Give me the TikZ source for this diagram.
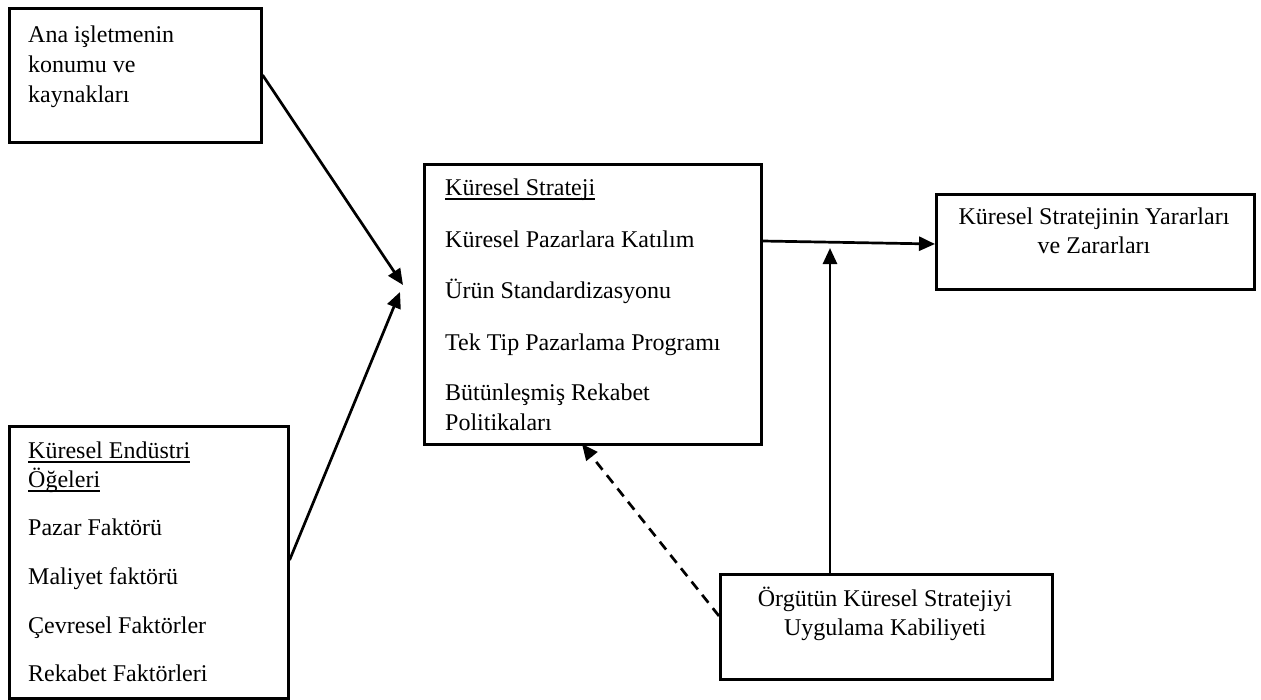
\documentclass[tikz,border=0pt]{standalone}
\usepackage{fontspec}
\setmainfont{Liberation Serif}
\usetikzlibrary{arrows.meta}

% underline drawn just below the baseline
\newcommand\undertext[1]{\setbox0\hbox{#1}\rlap{\rule[-4.5pt]{\wd0}{1.5pt}}\box0}

\tikzset{
  box/.style={draw, line width=2.6pt, rectangle, inner sep=0pt, anchor=north west},
  txt/.style={anchor=base west, inner sep=0pt, font=\fontsize{24}{29}\selectfont},
  ctxt/.style={anchor=base, inner sep=0pt, font=\fontsize{24}{29}\selectfont},
  link/.style={line width=2.7pt, -{Triangle[length=16pt,width=14pt]}},
  dlink/.style={link, dash pattern=on 10pt off 7pt}
}

\begin{document}
\begin{tikzpicture}[x=1pt, y=-1pt]
\useasboundingbox (0,0) rectangle (1261,699);

% boxes
\node[box, minimum width=252pt, minimum height=134pt] (src) at (8,7) {};
\node[box, minimum width=279pt, minimum height=272pt] (ind) at (8,425) {};
\node[box, minimum width=337pt, minimum height=280pt] (strat) at (423,163) {};
\node[box, minimum width=318pt, minimum height=95pt] (res) at (935,193) {};
\node[box, minimum width=332pt, minimum height=105pt] (org) at (719,573) {};

% texts of the upper left box
\node[txt] (src1) at (28,42) {Ana işletmenin};
\node[txt] (src2) at (28,72) {konumu ve};
\node[txt] (src3) at (28,102) {kaynakları};

% texts of the lower left box
\node[txt] (ind1) at (28,458) {\undertext{Küresel Endüstri}};
\node[txt] (ind2) at (28,487) {\undertext{Öğeleri}};
\node[txt] (ind3) at (28,535) {Pazar Faktörü};
\node[txt] (ind4) at (28,584) {Maliyet faktörü};
\node[txt] (ind5) at (28,633) {Çevresel Faktörler};
\node[txt] (ind6) at (28,681) {Rekabet Faktörleri};

% texts of the strategy box
\node[txt] (st1) at (445,195) {\undertext{Küresel Strateji}};
\node[txt] (st2) at (445,247) {Küresel Pazarlara Katılım};
\node[txt] (st3) at (445,298) {Ürün Standardizasyonu};
\node[txt] (st4) at (445,350) {Tek Tip Pazarlama Programı};
\node[txt] (st5) at (445,400) {Bütünleşmiş Rekabet};
\node[txt] (st6) at (445,430) {Politikaları};

% texts of the result box
\node[ctxt] (res1) at (1094,224) {Küresel Stratejinin Yararları};
\node[ctxt] (res2) at (1094,253) {ve Zararları};

% texts of the capability box
\node[ctxt] (org1) at (885,606) {Örgütün Küresel Stratejiyi};
\node[ctxt] (org2) at (885,635) {Uygulama Kabiliyeti};

% connector end points
\coordinate (tipA) at (403,285);
\coordinate (tipB) at (400,292);
\coordinate (tipV) at (830,248);
\coordinate (tipD) at (582,444);

% connectors
\draw[link] ([yshift=-68pt]src.north east) -- (tipA);
\draw[link] ([yshift=-135pt]ind.north east) -- (tipB);
\draw[link] ([yshift=-78pt]strat.north east) -- ([yshift=-51pt]res.north west);
\draw[link] ([xshift=111pt]org.north west) -- (tipV);
\draw[dlink] ([yshift=-43pt]org.north west) -- (tipD);
\end{tikzpicture}
\end{document}
